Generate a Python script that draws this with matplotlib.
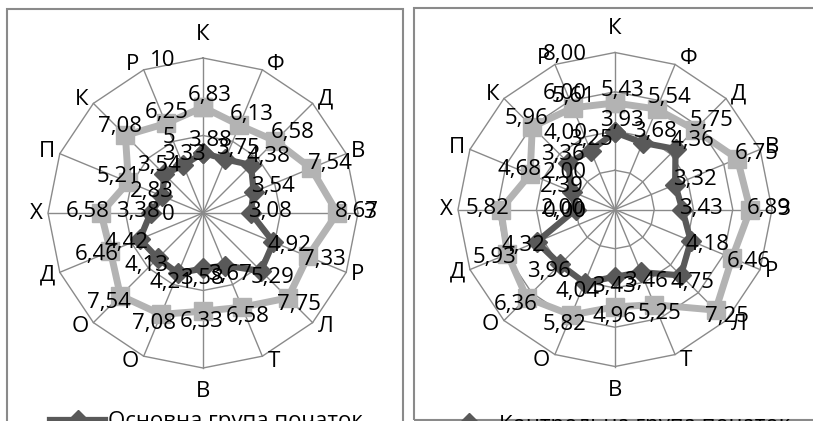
import numpy as np
import matplotlib
matplotlib.use("Agg")
import matplotlib.pyplot as plt
from matplotlib.lines import Line2D
from matplotlib.patches import Rectangle

plt.rcParams['font.family'] = ['Open Sans', 'DejaVu Sans']

# categories, clockwise from the top
categories = ["К", "Ф", "Д", "В", "З", "Р", "Л", "Т", "В", "О", "О", "Д", "Х", "П", "К", "Р"]

# main group (left chart)
main_start = [3.88, 3.75, 4.38, 3.54, 3.08, 4.92, 5.29, 3.67, 3.58, 4.21, 4.13, 4.42, 3.38, 2.83, 3.54, 3.33]
main_end = [6.83, 6.13, 6.58, 7.54, 8.67, 7.33, 7.75, 6.58, 6.33, 7.08, 7.54, 6.46, 6.58, 5.21, 7.08, 6.25]
main_ticks = [0, 5, 10]
main_tick_labels = ["0", "5", "10"]

# control group (right chart)
ctrl_start = [3.93, 3.68, 4.36, 3.32, 3.43, 4.18, 4.75, 3.46, 3.43, 4.04, 3.96, 4.32, 2.00, 2.39, 3.36, 3.25]
ctrl_end = [5.43, 5.54, 5.75, 6.75, 6.89, 6.46, 7.25, 5.25, 4.96, 5.82, 6.36, 5.93, 5.82, 4.68, 5.96, 5.61]
ctrl_ticks = [0, 2, 4, 6, 8]
ctrl_tick_labels = ["0,00", "2,00", "4,00", "6,00", "8,00"]

legend_main = "Основна група початок"
legend_ctrl = "Контрольна група початок"

DARK = "#595959"
LIGHT = "#b3b3b3"
GRID = "#8a8a8a"
FS = 16


def fmt(v):
    return f"{v:.2f}".replace(".", ",")


def radar(ax, start, end, ticks, tick_labels):
    n = len(categories)
    rmax = ticks[-1]
    theta = np.arange(n) * 2 * np.pi / n
    ax.set_theta_zero_location("N")
    ax.set_theta_direction(-1)
    ax.set_ylim(0, rmax)
    ax.grid(False)
    ax.spines["polar"].set_visible(False)
    ax.set_xticks([])
    ax.set_yticks([])
    ax.patch.set_alpha(0)

    tc = np.append(theta, theta[0])
    # polygon grid and spokes
    for r in ticks[1:]:
        ax.plot(tc, [r] * (n + 1), color=GRID, lw=1, zorder=1, clip_on=False)
    for t in theta:
        ax.plot([t, t], [0, rmax], color=GRID, lw=1, zorder=1, clip_on=False)

    # series
    ax.plot(tc, np.append(start, start[0]), color=DARK, lw=4.5, marker="D",
            ms=10, zorder=3, clip_on=False)
    ax.plot(tc, np.append(end, end[0]), color=LIGHT, lw=5, marker="s",
            ms=13, zorder=3, clip_on=False)

    # data labels
    for vals in (start, end):
        for t, v in zip(theta, vals):
            dx = 16 * np.sin(t) + 4 * np.cos(t) + 3
            dy = 11 * np.cos(t) + 1
            ax.annotate(fmt(v), (t, v), xytext=(dx, dy), textcoords="offset pixels",
                        ha="center", va="center", fontsize=FS, zorder=5)

    # category labels
    for t, c in zip(theta, categories):
        s, co = np.sin(t), np.cos(t)
        if abs(s) < 0.01:
            ha = "center"
            va = "bottom" if co > 0 else "top"
            xy = (0, 13 if co > 0 else -13)
        else:
            ha = "left" if s > 0 else "right"
            va = "center"
            xy = (5 * np.sign(s), 6 * co)
        ax.annotate(c, (t, rmax), xytext=xy, textcoords="offset pixels",
                    ha=ha, va=va, fontsize=FS, zorder=5)

    # value axis labels
    for r, lbl in zip(ticks, tick_labels):
        ax.annotate(lbl, (0, r), xytext=(-28, -2), textcoords="offset pixels",
                    ha="right", va="center", fontsize=FS, zorder=5)


fig = plt.figure(figsize=(8.13, 4.21), dpi=100)

ax1 = fig.add_axes([48 / 813, 53 / 421, 310 / 813, 310 / 421], projection="polar")
ax2 = fig.add_axes([458 / 813, 54.5 / 421, 314 / 813, 314 / 421], projection="polar")

radar(ax1, main_start, main_end, main_ticks, main_tick_labels)
radar(ax2, ctrl_start, ctrl_end, ctrl_ticks, ctrl_tick_labels)

# chart borders
fig.add_artist(Rectangle((7 / 813, -0.05), 396 / 813, 1.05 - 9 / 421,
                         transform=fig.transFigure, fill=False, ec=GRID, lw=1.5))
fig.add_artist(Rectangle((414 / 813, 1 / 421), 410 / 813, 1 - 9 / 421,
                         transform=fig.transFigure, fill=False, ec=GRID, lw=1.5))

# legends (only the first entry fits in the picture)
h = Line2D([], [], color=DARK, lw=4.5, marker="D", ms=10)
fig.legend([h], [legend_main], loc="center left", bbox_to_anchor=(41 / 813, -1 / 421),
           frameon=False, fontsize=FS, handlelength=2.5, handletextpad=0.1,
           borderaxespad=0)
fig.legend([h], [legend_ctrl], loc="center left", bbox_to_anchor=(432 / 813, -4 / 421),
           frameon=False, fontsize=FS, handlelength=2.5, handletextpad=0.1,
           borderaxespad=0)

fig.savefig("out.png", dpi=100)
